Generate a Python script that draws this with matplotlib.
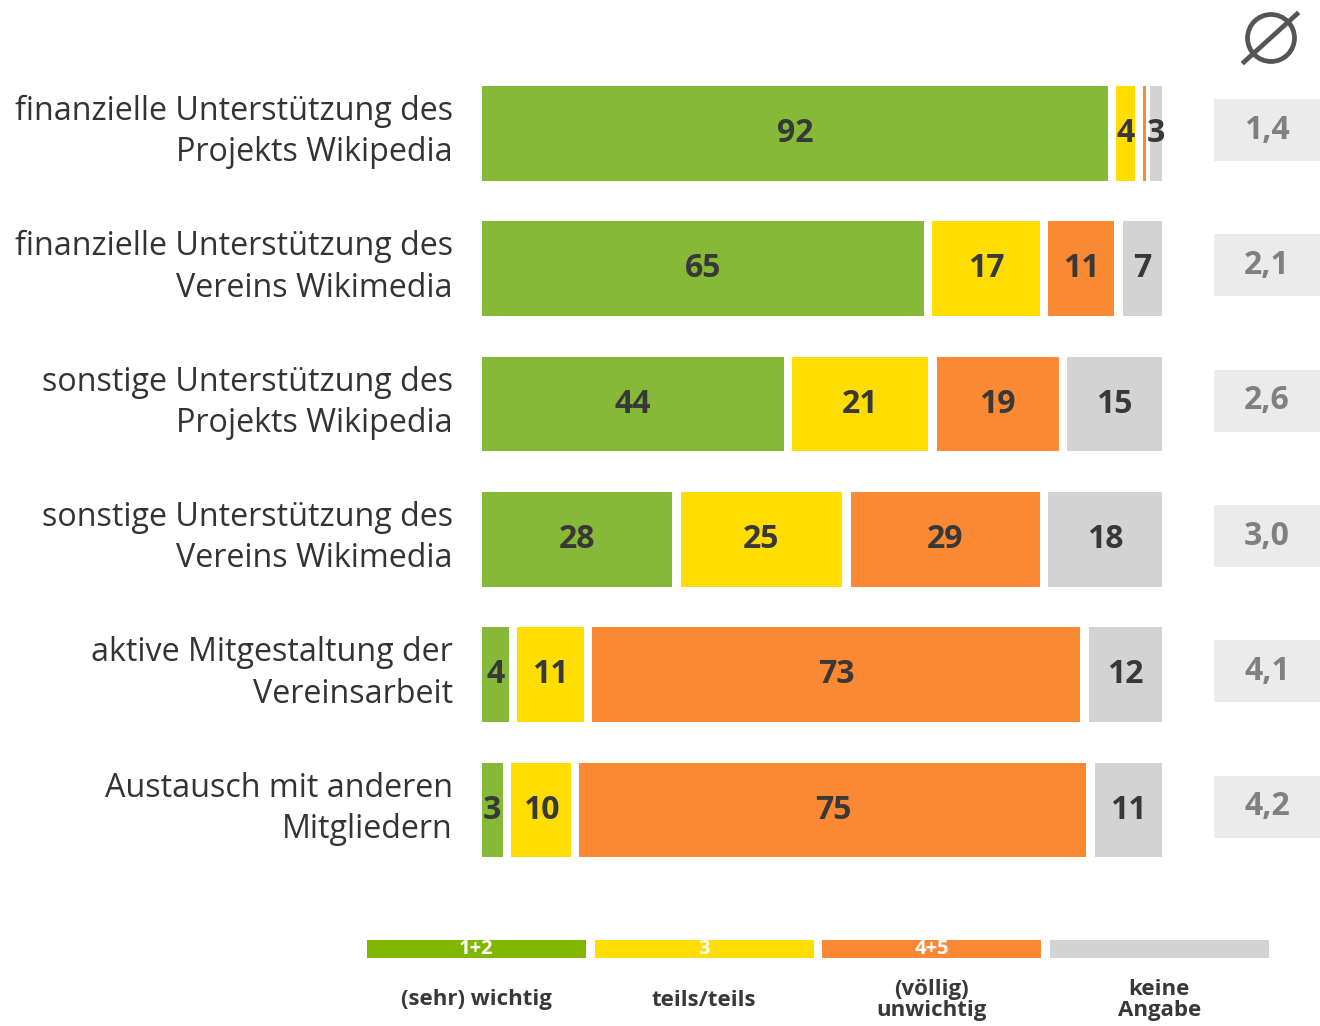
import numpy as np
import matplotlib.pyplot as plt
from matplotlib.patches import Circle
from matplotlib.lines import Line2D

# Wichtigkeit verschiedener Aspekte der Mitgliedschaft (Anteile in %)
categories = ['finanzielle Unterstützung des\nProjekts Wikipedia',
              'finanzielle Unterstützung des\nVereins Wikimedia',
              'sonstige Unterstützung des\nProjekts Wikipedia',
              'sonstige Unterstützung des\nVereins Wikimedia',
              'aktive Mitgestaltung der\nVereinsarbeit',
              'Austausch mit anderen\nMitgliedern']
wichtig = [92, 65, 44, 28, 4, 3]
teils = [4, 17, 21, 25, 11, 10]
unwichtig = [1, 11, 19, 29, 73, 75]
keine_angabe = [3, 7, 15, 18, 12, 11]
mittelwert = ['1,4', '2,1', '2,6', '3,0', '4,1', '4,2']

legend_codes = ['1+2', '3', '4+5', '']
legend_labels = ['(sehr) wichtig', 'teils/teils', '(völlig)\nunwichtig', 'keine\nAngabe']

bar_colors = ['#86b937', '#ffdd00', '#fb8832', '#d3d3d3']
legend_colors = ['#80b800', '#ffdd00', '#fb8832', '#d3d3d3']
txt_dark = '#383838'

plt.rcParams['font.family'] = ['Open Sans', 'DejaVu Sans']

W, H = 1320, 1026
fig = plt.figure(figsize=(W / 100, H / 100), dpi=100)

# main axes: bars from x=482 to x=1162 px
top_px, bot_px = 65.75, 877.75
ax = fig.add_axes([482 / W, 1 - bot_px / H, 680 / W, (bot_px - top_px) / H])
ax.set_xlim(0, 100)
ax.set_ylim(5.5, -0.5)
ax.axis('off')

series = np.array([wichtig, teils, unwichtig, keine_angabe], dtype=float)
shares = series / series.sum(axis=0) * 100
y = np.arange(len(categories))
gap = 1.2
bh = 0.70

for i in range(len(categories)):
    cum = 0.0
    for k in range(4):
        w = shares[k, i]
        left = cum + (gap if k > 0 else 0)
        width = max(w - (gap if k > 0 else 0), 0.5)
        ax.barh(y[i], width, left=left, height=bh, color=bar_colors[k], linewidth=0)
        if series[k, i] >= 2:
            ax.text(left + width / 2, y[i], str(int(series[k, i])), ha='center', va='center',
                    fontsize=23, fontweight='bold', color=txt_dark)
        cum += w
    # category label
    ax.text(-4.3, y[i] - 0.01, categories[i], ha='right', va='center', fontsize=23.2,
            color='#333333', linespacing=1.33)
    # average box
    box = ax.barh(y[i] - 0.025, 123.3 - 107.6, left=107.6, height=0.46,
                  color='#ebebeb', linewidth=0)
    for p in box:
        p.set_clip_on(False)
    ax.text((107.6 + 123.3) / 2, y[i] - 0.025, mittelwert[i], ha='center', va='center',
            fontsize=23, fontweight='bold', color='#808080')

# average symbol (circle with slash), drawn in inches so it stays round
tr = fig.dpi_scale_trans
fig.add_artist(Circle((12.71, (H - 38) / 100), 0.235, transform=tr, fill=False,
                      edgecolor='#555555', linewidth=3.4))
fig.add_artist(Line2D([12.44, 12.97], [(H - 62) / 100, (H - 14) / 100], transform=tr,
                      color='#555555', linewidth=3.4))

# legend
lax = fig.add_axes([367 / W, 0, 902 / W, 96 / H])
lax.set_xlim(0, 902)
lax.set_ylim(96, 0)
lax.axis('off')
step = (902 + 8.5) / 4
for k in range(4):
    x0 = k * step
    lax.bar(x0, 18, width=219, bottom=10, align='edge', color=legend_colors[k], linewidth=0)
    if legend_codes[k]:
        lax.text(x0 + 109.5, 18.5, legend_codes[k], ha='center', va='center', fontsize=14.5,
                 fontweight='bold', color='white')
    lax.text(x0 + 109.5, 70, legend_labels[k], ha='center', va='center', fontsize=16,
             fontweight='bold', color=txt_dark, linespacing=1.0)

fig.savefig('out.png', dpi=100)
